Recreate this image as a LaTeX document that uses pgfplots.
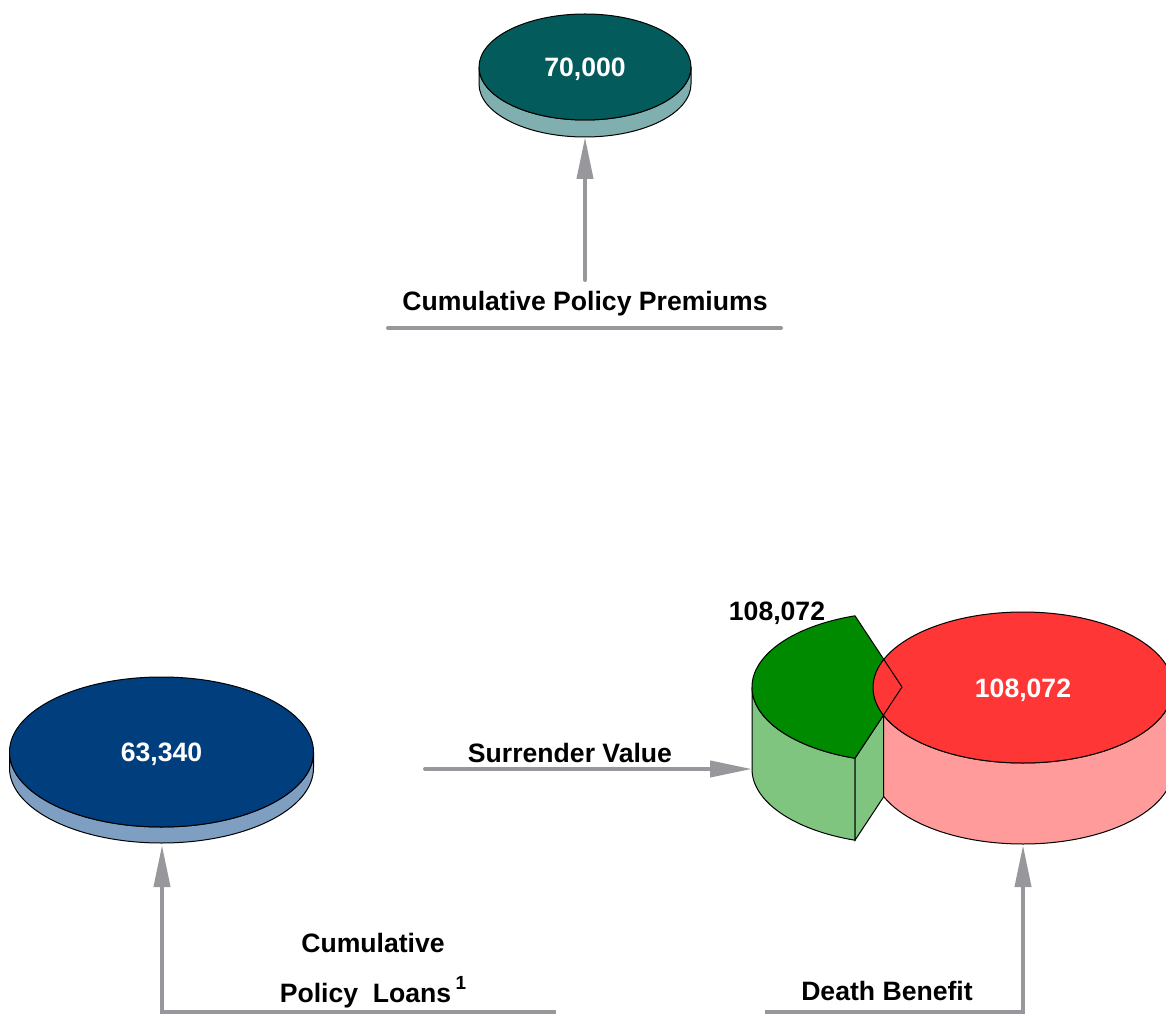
\documentclass[border=0pt]{standalone}
\usepackage{pgfplots}
\pgfplotsset{compat=1.18}
\usepackage{fontspec}
\setmainfont{Liberation Sans}
\usetikzlibrary{arrows.meta}
\definecolor{tealtop}{HTML}{035C5B}
\definecolor{tealside}{HTML}{7FAFAE}
\definecolor{bluetop}{HTML}{003E7E}
\definecolor{blueside}{HTML}{7F9FC2}
\definecolor{greentop}{HTML}{008A00}
\definecolor{greenside}{HTML}{7FC57F}
\definecolor{redtop}{HTML}{FF3636}
\definecolor{redside}{HTML}{FF9B9B}
\definecolor{arrowgray}{HTML}{98989C}
\tikzset{lbl/.style={font=\fontsize{13.3}{16}\selectfont\bfseries}}
\begin{document}
\begin{tikzpicture}
\begin{axis}[
  scale only axis, width=583pt, height=507.5pt,
  xmin=0, xmax=1166, ymin=0, ymax=1015, y dir=reverse,
  hide axis,
  conn/.style={no markers, line width=2pt, draw=arrowgray, line cap=round},
  tip/.style={-{Triangle[length=21pt,width=8pt]}},
]
% ---- connector lines and arrows ----
\addplot[conn, tip] coordinates {(585,280) (585,137)};
\addplot[conn] coordinates {(388,328) (781,328)};
\addplot[conn, tip] coordinates {(425,769) (752,769)};
\addplot[conn, tip, line cap=butt] coordinates {(556,1012) (162,1012) (162,845)};
\addplot[conn, tip, line cap=butt] coordinates {(765,1012) (1023,1012) (1023,845)};

% ---- teal cylinder (70,000) ----
\filldraw[fill=tealside, draw=black, line width=0.5pt] (axis cs:479,67) -- ++(0,-8.5pt)
  arc[start angle=180, end angle=360, x radius=53pt, y radius=26.5pt] -- ++(0,8.5pt)
  arc[start angle=0, end angle=-180, x radius=53pt, y radius=26.5pt] -- cycle;
\filldraw[fill=tealtop, draw=black, line width=0.5pt] (axis cs:585,67) ellipse[x radius=53pt, y radius=26.5pt];
\node[lbl, text=white] at (axis cs:585,69) {70,000};

% ---- blue cylinder (63,340) ----
\filldraw[fill=blueside, draw=black, line width=0.5pt] (axis cs:9.5,752) -- ++(0,-8pt)
  arc[start angle=180, end angle=360, x radius=76pt, y radius=37.5pt] -- ++(0,8pt)
  arc[start angle=0, end angle=-180, x radius=76pt, y radius=37.5pt] -- cycle;
\filldraw[fill=bluetop, draw=black, line width=0.5pt] (axis cs:161.5,752) ellipse[x radius=76pt, y radius=37.5pt];
\node[lbl, text=white] at (axis cs:161.5,754) {63,340};

% ---- red cylinder side ----
\filldraw[fill=redside, draw=black, line width=0.5pt] (axis cs:873,687.5) -- ++(0,-40.5pt)
  arc[start angle=180, end angle=360, x radius=75pt, y radius=37.75pt] -- ++(0,40.5pt)
  arc[start angle=0, end angle=-180, x radius=75pt, y radius=37.75pt] -- cycle;

% ---- green slice ----
\filldraw[fill=greenside, draw=black, line width=0.5pt] (axis cs:752,687)
  arc[start angle=180, end angle=251.74, x radius=75pt, y radius=37.5pt] -- ++(0,-41pt)
  arc[start angle=251.74, end angle=180, x radius=75pt, y radius=37.5pt] -- cycle;
\filldraw[fill=greenside, draw=black, line width=0.5pt] (axis cs:855,758.2) -- (axis cs:883.5,715) -- (axis cs:883.5,797) -- (axis cs:855,840.2) -- cycle;
\fill[greentop] (axis cs:902,687) -- (axis cs:855,615.8)
  arc[start angle=108.26, end angle=251.74, x radius=75pt, y radius=37.5pt] -- cycle;

% ---- red top ----
\filldraw[fill=redtop, draw=black, line width=0.5pt] (axis cs:1023,687.5) ellipse[x radius=75pt, y radius=37.75pt];
\draw[black, line width=0.5pt] (axis cs:902,687) -- (axis cs:855,615.8)
  arc[start angle=108.26, end angle=251.74, x radius=75pt, y radius=37.5pt] -- cycle;
\node[lbl, text=white] at (axis cs:1023,690) {108,072};
\node[lbl, text=black] at (axis cs:777,613) {108,072};

% ---- labels ----
\node[lbl] at (axis cs:585,304) {Cumulative Policy Premiums};
\node[lbl] at (axis cs:570,753) {Surrender Value};
\node[lbl] at (axis cs:373,943) {Cumulative};
\node[lbl] at (axis cs:373,992) {Policy\ \ Loans\,\raisebox{0.9ex}{\fontsize{9.5}{11}\selectfont 1}};
\node[lbl] at (axis cs:887,991) {Death Benefit};
\end{axis}
\pgfresetboundingbox
\path[use as bounding box] (current axis.south west) rectangle (current axis.north east);
\end{tikzpicture}
\end{document}
